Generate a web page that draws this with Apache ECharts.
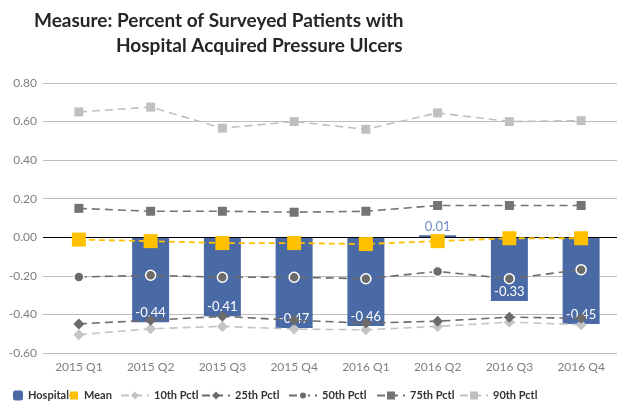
<!DOCTYPE html>
<html><head><meta charset="utf-8">
<script src="https://cdn.jsdelivr.net/npm/echarts@6/dist/echarts.min.js"></script>
<style>html,body{margin:0;padding:0;background:#fff}#c{width:617px;height:411px}</style>
</head><body><div id="c"></div>
<script>
const categories = ['2015 Q1','2015 Q2','2015 Q3','2015 Q4','2016 Q1','2016 Q2','2016 Q3','2016 Q4'];
const hospital = [null, -0.44, -0.41, -0.47, -0.46, 0.01, -0.33, -0.45];
const mean = [-0.012, -0.02, -0.03, -0.03, -0.035, -0.02, -0.005, -0.005];
const p10 = [-0.505, -0.474, -0.462, -0.476, -0.48, -0.462, -0.44, -0.453];
const p25 = [-0.449, -0.43, -0.41, -0.43, -0.445, -0.435, -0.414, -0.42];
const p50 = [-0.206, -0.197, -0.207, -0.207, -0.215, -0.177, -0.215, -0.168];
const p75 = [0.15, 0.135, 0.135, 0.13, 0.135, 0.165, 0.165, 0.165];
const p90 = [0.65, 0.675, 0.566, 0.60, 0.56, 0.645, 0.60, 0.605];

const FONT = 'Lato';
const chart = echarts.init(document.getElementById('c'), null, {renderer:'canvas'});
const hospData = hospital.map(v => {
  if (v === null) return '-';
  if (v >= 0) return {value: v, label: {show: true, position: 'top', color: '#6d8cc2', distance: 2}};
  return {value: v, label: {show: true, position: 'insideBottom', color: '#fff', distance: 3}};
});
function lineSeries(name, data, color, symbol, size, extra) {
  return Object.assign({
    name, type: 'line', data, symbol, symbolSize: size, z: 5,
    lineStyle: {color, width: 1.6, type: [8, 5]},
    itemStyle: {color}
  }, extra || {});
}
const legendBase = {bottom: 5, itemHeight: 10, textStyle: {fontFamily: FONT, fontSize: 11, fontWeight: 'bold', color: '#333'}};
function lg(name, left, w) { return Object.assign({}, legendBase, {data: [name], left, itemWidth: w, itemGap: 0}); }
const titleStyle = {fontFamily: FONT, fontSize: 19, fontWeight: 'bold', color: '#262626'};
chart.setOption({
  animation: false,
  textStyle: {fontFamily: FONT},
  title: [
    {text: 'Measure: Percent of Surveyed Patients with', left: 29, top: 6, textStyle: titleStyle},
    {text: 'Hospital Acquired Pressure Ulcers', left: 111, top: 31, textStyle: titleStyle}
  ],
  legend: [
    lg('Hospital', 8, 10), lg('Mean', 63, 10), lg('10th Pctl', 115, 28), lg('25th Pctl', 196, 28),
    lg('50th Pctl', 283, 28), lg('75th Pctl', 371, 28), lg('90th Pctl', 454, 28)
  ],
  grid: {left: 43, right: 0, top: 83, bottom: 58, containLabel: false},
  xAxis: {
    type: 'category', data: categories,
    axisLine: {show: false}, axisTick: {show: false},
    axisLabel: {color: '#7f7f7f', fontSize: 12, margin: 8, fontFamily: FONT}
  },
  yAxis: {
    type: 'value', min: -0.6, max: 0.8, interval: 0.2,
    axisLine: {show: false}, axisTick: {show: false},
    axisLabel: {color: '#7f7f7f', fontSize: 12, margin: 6, fontFamily: FONT, formatter: v => v.toFixed(2)},
    splitLine: {lineStyle: {color: '#bdbdbd', width: 1}}
  },
  series: [
    {name: 'Hospital', type: 'bar', data: hospData, barWidth: 37, itemStyle: {color: '#4a6aa5'},
     label: {fontFamily: FONT, fontSize: 13}, z: 2,
     markLine: {silent: true, symbol: 'none', label: {show: false}, lineStyle: {color: '#000', width: 1, type: 'solid'}, data: [{yAxis: 0}]}},
    lineSeries('Mean', mean, '#ffc000', 'rect', 14, {lineStyle: {color: '#ffc000', width: 1.8, type: [6, 4]}, itemStyle: {color: '#ffc000'}, z: 6}),
    lineSeries('10th Pctl', p10, '#c4c4c4', 'diamond', 11),
    lineSeries('25th Pctl', p25, '#6b6b6b', 'diamond', 11),
    lineSeries('50th Pctl', p50, '#6b6b6b', 'circle', 10, {itemStyle: {color: '#6b6b6b', borderColor: '#fff', borderWidth: 1.5}}),
    lineSeries('75th Pctl', p75, '#747474', 'rect', 9),
    lineSeries('90th Pctl', p90, '#c0c0c0', 'rect', 9)
  ]
});
</script></body></html>
